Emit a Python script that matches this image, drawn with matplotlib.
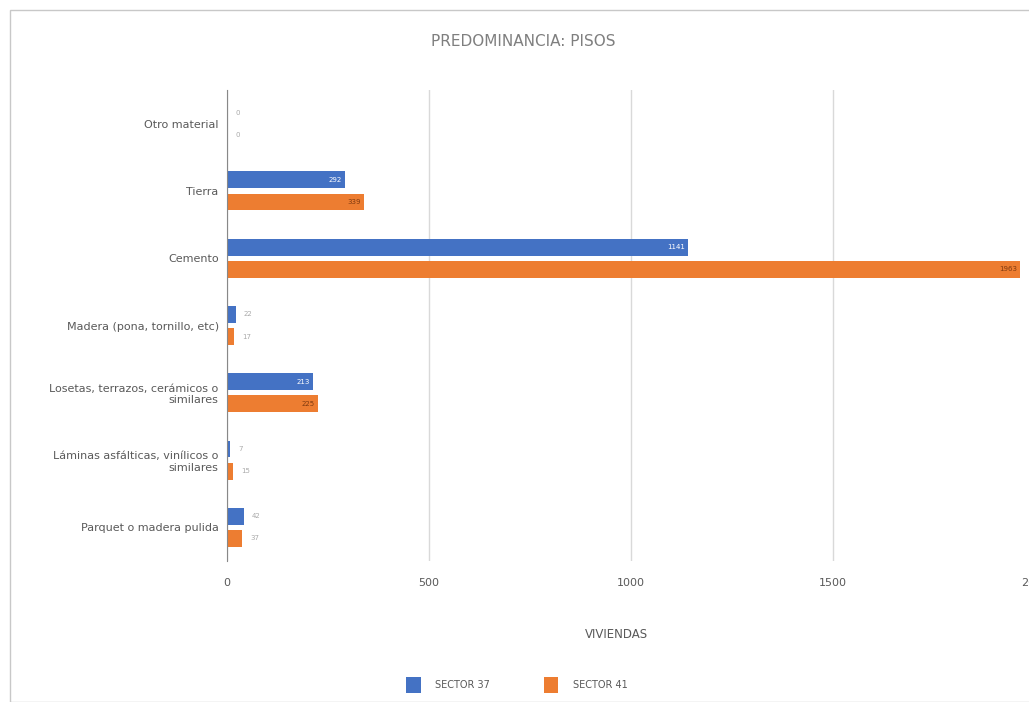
import matplotlib
matplotlib.use("Agg")
import matplotlib.pyplot as plt
from matplotlib.patches import Rectangle
import numpy as np

categories = ["Otro material", "Tierra", "Cemento", "Madera (pona, tornillo, etc)",
              "Losetas, terrazos, cerámicos o\nsimilares",
              "Láminas asfálticas, vinílicos o\nsimilares",
              "Parquet o madera pulida"]
sector37 = [0, 292, 1141, 22, 213, 7, 42]
sector41 = [0, 339, 1963, 17, 225, 15, 37]
xticks = [0, 500, 1000, 1500, 2000]

blue = "#4472C4"
orange = "#ED7D31"

fig = plt.figure(figsize=(10.29, 7.02), dpi=100)
fig.patches.append(Rectangle((10/1029, 0), 1, 1 - 10/702, transform=fig.transFigure,
                             fill=False, edgecolor="#c8c8c8", linewidth=1))
ax = fig.add_axes([227/1029, 1 - 561/702, 808/1029, 471/702])

y = np.arange(len(categories))
h = 0.25
b1 = ax.barh(y - h/2 - 0.04, sector37, height=h, color=blue, zorder=3)
b2 = ax.barh(y + h/2 + 0.04, sector41, height=h, color=orange, zorder=3)

ax.set_xlim(0, 2000)
ax.set_ylim(len(categories) - 0.5, -0.5)
ax.set_yticks(y)
ax.set_yticklabels(categories, fontsize=8, color="#595959", ha="right")
ax.set_xticks(xticks)
ax.set_xticklabels([str(t) for t in xticks], fontsize=8, color="#595959")
ax.tick_params(axis="both", length=0, pad=12)
ax.tick_params(axis="y", pad=6)
ax.grid(axis="x", color="#d9d9d9", linewidth=1, zorder=0)
for s in ["top", "right", "bottom"]:
    ax.spines[s].set_visible(False)
ax.spines["left"].set_color("#888888")
ax.spines["left"].set_zorder(4)

for bars, vals, col, txtcol in [(b1, sector37, blue, "white"), (b2, sector41, orange, "#7f3a10")]:
    for bar, v in zip(bars, vals):
        yc = bar.get_y() + bar.get_height()/2
        if v >= 100:
            ax.text(v - 8, yc, str(v), ha="right", va="center", fontsize=5, color=txtcol, zorder=5)
        else:
            ax.text(v + 20, yc, str(v), ha="left", va="center", fontsize=5, color="#aaaaaa", zorder=5)

fig.text(523/1029, 1 - 42/702, "PREDOMINANCIA: PISOS", ha="center", va="center",
         fontsize=11, color="#7f7f7f")
fig.text(616/1029, 1 - 635/702, "VIVIENDAS", ha="center", va="center",
         fontsize=8.5, color="#595959")
leg = fig.legend([b1, b2], ["SECTOR 37", "SECTOR 41"], loc="center",
                 bbox_to_anchor=(517/1029, 1 - 685/702), ncol=2, frameon=False,
                 fontsize=7, labelcolor="#595959", handlelength=1.5, handleheight=2.0,
                 handletextpad=1.5, columnspacing=5.5)

fig.savefig("out.png", dpi=100)
